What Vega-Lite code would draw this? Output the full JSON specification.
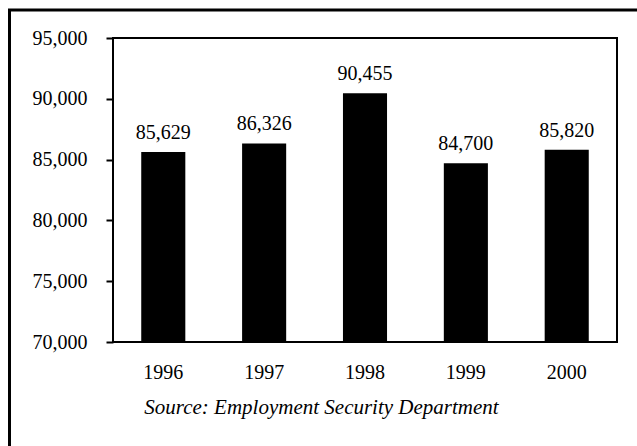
{
  "$schema": "https://vega.github.io/schema/vega-lite/v6.json",
  "width": 504,
  "height": 304,
  "autosize": {"type": "none"},
  "padding": {"left": 113, "top": 38, "right": 20, "bottom": 104},
  "background": "white",
  "config": {
    "font": "Liberation Serif",
    "view": {"stroke": "black", "strokeWidth": 2},
    "axis": {"grid": false, "labelColor": "black", "titleColor": "black"}
  },
  "data": {
    "values": [
      {"year": "1996", "jobs": 85629},
      {"year": "1997", "jobs": 86326},
      {"year": "1998", "jobs": 90455},
      {"year": "1999", "jobs": 84700},
      {"year": "2000", "jobs": 85820}
    ]
  },
  "layer": [
    {
      "data": {"values": [{}]},
      "mark": {"type": "rect", "fill": null, "stroke": "black", "strokeWidth": 3, "clip": false},
      "encoding": {
        "x": {"value": -103.5},
        "x2": {"value": 700},
        "y": {"value": -28},
        "y2": {"value": 500}
      }
    },
    {
      "mark": {"type": "bar", "color": "black"},
      "encoding": {
        "x": {
          "field": "year",
          "type": "ordinal",
          "scale": {"paddingInner": 0.563, "paddingOuter": 0.28},
          "axis": {
            "title": "Source:  Employment Security Department",
            "titleFont": "Liberation Serif",
            "titleFontStyle": "italic",
            "titleFontWeight": "normal",
            "titleFontSize": 21,
            "titleX": 208,
            "titleY": 71,
            "titleAlign": "center",
            "titleBaseline": "alphabetic",
            "labelAngle": 0,
            "labelFontSize": 20,
            "labelBaseline": "alphabetic",
            "labelPadding": 36,
            "ticks": false,
            "domain": false
          }
        },
        "y": {
          "field": "jobs",
          "type": "quantitative",
          "scale": {"domain": [70000, 95000], "zero": false, "nice": false},
          "axis": {
            "title": null,
            "values": [70000, 75000, 80000, 85000, 90000, 95000],
            "format": ",.0f",
            "labelFontSize": 20,
            "labelPadding": 19,
            "tickSize": 7,
            "tickWidth": 2,
            "tickColor": "black",
            "domain": false
          }
        },
        "y2": {"datum": 70000}
      }
    },
    {
      "mark": {"type": "text", "baseline": "alphabetic", "dy": -13, "fontSize": 20, "color": "black"},
      "encoding": {
        "x": {"field": "year", "type": "ordinal"},
        "y": {"field": "jobs", "type": "quantitative"},
        "text": {"field": "jobs", "type": "quantitative", "format": ",.0f"}
      }
    }
  ]
}
